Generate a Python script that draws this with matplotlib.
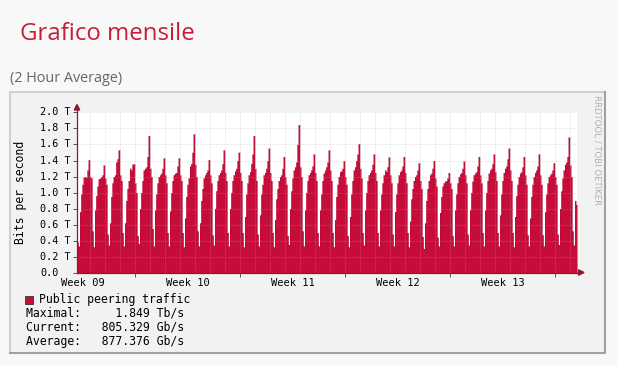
import numpy as np
import matplotlib.pyplot as plt
from matplotlib.patches import Rectangle, Polygon
from matplotlib.lines import Line2D
from matplotlib.transforms import blended_transform_factory

# 2 hour averages (Tb/s), one row per day starting at the night-time low
pre_sample = [0.38]
days = [
    [0.33, 0.76, 0.98, 1.10, 1.19, 1.20, 1.19, 1.28, 1.41, 1.20, 1.18, 0.52],
    [0.32, 0.78, 0.96, 1.08, 1.17, 1.18, 1.20, 1.22, 1.34, 1.18, 1.10, 0.48],
    [0.34, 0.62, 0.95, 1.12, 1.20, 1.22, 1.38, 1.42, 1.53, 1.22, 1.15, 0.50],
    [0.33, 0.62, 0.90, 1.05, 1.15, 1.30, 1.28, 1.35, 1.36, 1.12, 1.00, 0.46],
    [0.36, 0.80, 1.00, 1.15, 1.28, 1.30, 1.32, 1.45, 1.71, 1.30, 1.20, 0.55],
    [0.33, 0.78, 0.98, 1.12, 1.20, 1.22, 1.24, 1.30, 1.43, 1.22, 1.12, 0.50],
    [0.33, 0.77, 1.00, 1.15, 1.22, 1.24, 1.25, 1.33, 1.43, 1.22, 1.15, 0.50],
    [0.32, 0.68, 0.95, 1.10, 1.18, 1.33, 1.36, 1.50, 1.73, 1.35, 1.20, 0.52],
    [0.33, 0.62, 0.90, 1.05, 1.18, 1.22, 1.25, 1.28, 1.41, 1.22, 1.12, 0.47],
    [0.34, 0.80, 1.02, 1.15, 1.22, 1.25, 1.28, 1.36, 1.53, 1.25, 1.15, 0.50],
    [0.33, 0.80, 1.00, 1.15, 1.22, 1.27, 1.30, 1.40, 1.50, 1.25, 1.15, 0.50],
    [0.32, 0.70, 0.98, 1.12, 1.22, 1.26, 1.36, 1.48, 1.71, 1.30, 1.15, 0.48],
    [0.33, 0.72, 0.98, 1.10, 1.22, 1.25, 1.30, 1.40, 1.55, 1.25, 1.15, 0.50],
    [0.32, 0.66, 0.92, 1.05, 1.15, 1.20, 1.22, 1.30, 1.45, 1.20, 1.10, 0.46],
    [0.35, 0.80, 1.02, 1.18, 1.28, 1.32, 1.38, 1.60, 1.849, 1.32, 1.20, 0.52],
    [0.33, 0.78, 1.00, 1.15, 1.22, 1.25, 1.28, 1.33, 1.48, 1.25, 1.15, 0.50],
    [0.33, 0.78, 0.98, 1.15, 1.24, 1.28, 1.32, 1.38, 1.53, 1.28, 1.15, 0.50],
    [0.32, 0.66, 0.95, 1.10, 1.20, 1.26, 1.27, 1.30, 1.40, 1.20, 1.10, 0.46],
    [0.32, 0.70, 0.98, 1.15, 1.28, 1.32, 1.40, 1.48, 1.61, 1.30, 1.18, 0.50],
    [0.34, 0.78, 1.00, 1.15, 1.22, 1.25, 1.28, 1.35, 1.48, 1.25, 1.15, 0.50],
    [0.33, 0.78, 0.98, 1.12, 1.22, 1.28, 1.26, 1.32, 1.44, 1.22, 1.12, 0.48],
    [0.33, 0.76, 0.98, 1.12, 1.22, 1.26, 1.28, 1.33, 1.45, 1.25, 1.12, 0.50],
    [0.32, 0.64, 0.92, 1.05, 1.15, 1.20, 1.22, 1.28, 1.37, 1.15, 1.05, 0.45],
    [0.30, 0.62, 0.90, 1.05, 1.15, 1.22, 1.24, 1.30, 1.40, 1.18, 1.08, 0.44],
    [0.33, 0.75, 0.95, 1.08, 1.12, 1.14, 1.15, 1.18, 1.25, 1.12, 1.05, 0.46],
    [0.33, 0.78, 0.98, 1.12, 1.20, 1.23, 1.25, 1.30, 1.39, 1.22, 1.12, 0.48],
    [0.34, 0.78, 1.00, 1.14, 1.22, 1.24, 1.26, 1.33, 1.45, 1.22, 1.12, 0.50],
    [0.33, 0.78, 1.00, 1.15, 1.24, 1.28, 1.30, 1.36, 1.48, 1.26, 1.15, 0.50],
    [0.33, 0.72, 0.98, 1.15, 1.25, 1.30, 1.33, 1.42, 1.55, 1.28, 1.15, 0.50],
    [0.32, 0.70, 0.96, 1.10, 1.20, 1.24, 1.26, 1.32, 1.45, 1.22, 1.10, 0.47],
    [0.33, 0.68, 0.95, 1.10, 1.20, 1.25, 1.28, 1.33, 1.48, 1.22, 1.10, 0.47],
    [0.33, 0.76, 0.98, 1.12, 1.20, 1.22, 1.24, 1.28, 1.37, 1.20, 1.10, 0.48],
    [0.35, 0.80, 1.02, 1.18, 1.28, 1.35, 1.38, 1.45, 1.69, 1.34, 1.20, 0.52],
    [0.34, 0.90, 0.85],
]

y_ticks = [0.0, 0.2, 0.4, 0.6, 0.8, 1.0, 1.2, 1.4, 1.6, 1.8, 2.0]
y_tick_labels = ['0.0', '0.2 T', '0.4 T', '0.6 T', '0.8 T', '1.0 T',
                 '1.2 T', '1.4 T', '1.6 T', '1.8 T', '2.0 T']
week_labels = ['Week 09', 'Week 10', 'Week 11', 'Week 12', 'Week 13']
legend_name = 'Public peering traffic'
stats = [('Maximal:', '  1.849 Tb/s'),
         ('Current:', '805.329 Gb/s'),
         ('Average:', '877.376 Gb/s')]

values = np.array(pre_sample + [v for d in days for v in d])
t = np.arange(len(values)) * 2.0   # hours from the left edge

W, H = 618, 366
RED = '#c60c38'
MONO = 'DejaVu Sans Mono'

def fx(x):
    return x / W

def fy(y):
    return 1 - y / H

fig = plt.figure(figsize=(W / 100, H / 100), dpi=100)
fig.patch.set_facecolor('#f8f8f8')

# page header
fig.text(fx(19.5), fy(39.5), 'Grafico mensile', family='Open Sans', fontsize=17.3,
         color='#c41e3a', va='baseline')
fig.text(fx(10), fy(81.5), '(2 Hour Average)', family='Open Sans', fontsize=10.4,
         color='#666666', va='baseline')

# rrdtool image frame
fig.add_artist(Rectangle((fx(10), fy(353)), 595 / W, 261 / H, transform=fig.transFigure,
                         facecolor='#f2f2f2', edgecolor='none', zorder=0))
fig.add_artist(Line2D([fx(10), fx(10), fx(605)], [fy(353), fy(92), fy(92)],
                      transform=fig.transFigure, color='#cfcfcf', lw=1.5))
fig.add_artist(Line2D([fx(10), fx(605), fx(605)], [fy(353), fy(353), fy(92)],
                      transform=fig.transFigure, color='#a0a0a0', lw=1.5))

ax = fig.add_axes([fx(77), fy(272.5), 500 / W, 160 / H])
ax.set_facecolor('white')
ax.set_xlim(0, 800)
ax.set_ylim(0, 2.0)

te = np.append(t, t[-1] + 2)
ve = np.append(values, values[-1])
ax.fill_between(te, ve, step='post', color=RED, lw=0, zorder=2)
ax.step(te, ve, where='post', color='#a50a32', lw=0.4, alpha=0.5, zorder=2)

# grid drawn over the area, as rrdtool does
day_lines = np.arange(20.16, 800, 24)
week_ticks = np.arange(92.16, 800, 168)
grid_kw = dict(color='#b0b0b0', alpha=0.35, lw=0.7, ls=(0, (1, 1)), zorder=3)
for x in day_lines:
    ax.axvline(x, **grid_kw)
for y in y_ticks[1:]:
    ax.axhline(y, **grid_kw)

for s in ax.spines.values():
    s.set_visible(False)
ax.set_xticks(week_ticks)
ax.set_xticklabels([])
ax.set_yticks(y_ticks)
ax.set_yticklabels([])
ax.tick_params(length=3, width=0.7, color='#555555')

# axis lines with arrows
AX_C = '#8b1a2e'
ax.plot([0, 0], [0, 2.07], color=AX_C, lw=0.9, clip_on=False, zorder=4)
ax.plot([0, 805], [0, 0], color=AX_C, lw=0.9, clip_on=False, zorder=4)
fig.add_artist(Polygon([(fx(77), fy(104.5)), (fx(74.3), fy(110)), (fx(79.7), fy(110))],
                       closed=True, transform=fig.transFigure, color=AX_C))
fig.add_artist(Polygon([(fx(584), fy(272.5)), (fx(578.5), fy(269.8)), (fx(578.5), fy(275.2))],
                       closed=True, transform=fig.transFigure, color=AX_C))

ytr = blended_transform_factory(fig.transFigure, ax.transData)
for y, lab in zip(y_ticks, y_tick_labels):
    ax.text(fx(40), y, lab, transform=ytr, family=MONO, fontsize=7.3,
            ha='left', va='center')
xtr = blended_transform_factory(ax.transData, fig.transFigure)
for i, lab in enumerate(week_labels):
    ax.text(week_ticks[i] - 82, fy(283), lab, transform=xtr, family=MONO,
            fontsize=7.5, ha='center', va='center')

fig.text(fx(20.5), fy(192), 'Bits per second', family=MONO, fontsize=8.3,
         rotation=90, ha='center', va='center')
fig.text(fx(597), fy(95), 'RRDTOOL / TOBI OETIKER', fontsize=6.1, color='#b0b0b0',
         rotation=270, ha='center', va='top')

# legend
fig.add_artist(Rectangle((fx(25), fy(303.5)), 8 / W, 8 / H, transform=fig.transFigure,
                         facecolor=RED, edgecolor='#333333', lw=0.6))
fig.text(fx(39), fy(299), legend_name, family=MONO, fontsize=8.3, va='center')
for i, (name, val) in enumerate(stats):
    fig.text(fx(26), fy(313 + 14 * i), name + '   ' + val, family=MONO,
             fontsize=8.3, va='center')

fig.savefig('out.png', dpi=100, facecolor=fig.get_facecolor())
